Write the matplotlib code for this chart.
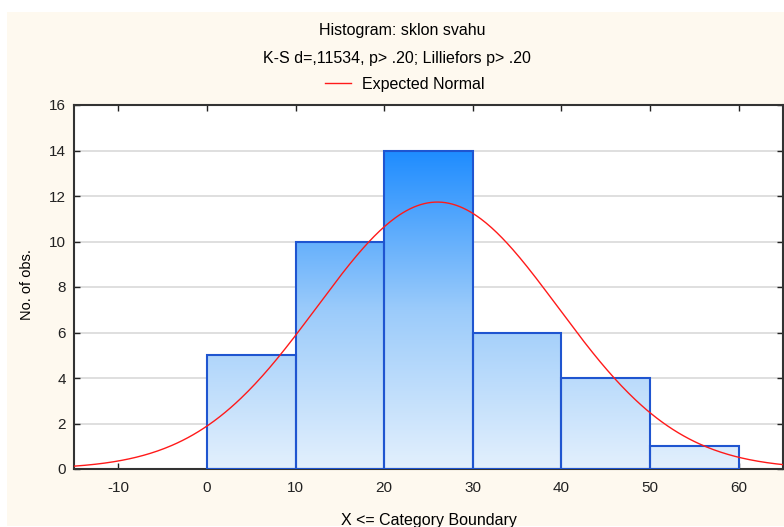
import numpy as np
import matplotlib
matplotlib.use("Agg")
import matplotlib.pyplot as plt
from matplotlib.patches import Rectangle
from matplotlib.colors import LinearSegmentedColormap

plt.rcParams['font.family'] = ['Liberation Sans', 'DejaVu Sans']
plt.rcParams['axes.unicode_minus'] = False

# Data
bin_edges = [0, 10, 20, 30, 40, 50, 60]
counts = [5, 10, 14, 6, 4, 1]
normal_mean = 26.0
normal_sd = 13.6
n_obs = 40
bin_width = 10
x_ticks = [-10, 0, 10, 20, 30, 40, 50, 60]
y_ticks = [0, 2, 4, 6, 8, 10, 12, 14, 16]

fig = plt.figure(figsize=(7.84, 5.27), dpi=100)
fig.patch.set_facecolor('white')
fig.patches.append(Rectangle((7/784, 1/527), 1, 1 - 13/527, transform=fig.transFigure,
                             facecolor='#FEF9EF', edgecolor='none', zorder=-10))

ax = fig.add_axes([74/784, (527-469)/527, (783-74)/784, (469-105)/527])
ax.set_facecolor('white')

ax.yaxis.grid(True, color='#D9D9D9', linewidth=1.2)
ax.set_axisbelow(True)

cmap = LinearSegmentedColormap.from_list('g', ['#E3F0FD', '#9BCBFA', '#1E8CFF'])
grad = np.linspace(0, 1, 256).reshape(-1, 1)
for left, right, c in zip(bin_edges[:-1], bin_edges[1:], counts):
    im = ax.imshow(grad, cmap=cmap, origin='lower', aspect='auto',
                   extent=[left, right, 0, 14], zorder=2, interpolation='bicubic')
    rect = Rectangle((left, 0), right - left, c, facecolor='none',
                     edgecolor='#1F55D0', linewidth=1.5, zorder=3)
    ax.add_patch(rect)
    im.set_clip_path(rect)

xs = np.linspace(-15, 65, 400)
ys = n_obs * bin_width / (normal_sd * np.sqrt(2*np.pi)) * np.exp(-0.5*((xs-normal_mean)/normal_sd)**2)
line, = ax.plot(xs, ys, color='#FF1A1A', linewidth=1.0, zorder=4, label='Expected Normal')
ax.set_xlim(-15, 65)
ax.set_ylim(0, 16)

ax.set_xticks(x_ticks)
ax.set_yticks(y_ticks)
ax.tick_params(direction='in', top=True, right=True, length=4, width=1,
               labelsize=11, colors='#222222')
ax.tick_params(axis='x', pad=9)
ax.tick_params(axis='y', pad=6)
for s in ax.spines.values():
    s.set_color('#333333')
    s.set_linewidth(1.5)

fig.text(27/784, 1 - 285/527, 'No. of obs.', rotation=90, ha='center', va='center', fontsize=10.5)
fig.text(429/784, 1 - 520/527, 'X <= Category Boundary', ha='center', va='center', fontsize=11.5)

fig.text(402/784, 1 - 31/527, 'Histogram: sklon svahu', ha='center', va='center', fontsize=11.5)
fig.text(397/784, 1 - 58/527, 'K-S d=,11534, p> .20; Lilliefors p> .20', ha='center', va='center', fontsize=11.5)
fig.legend(handles=[line], loc='center', bbox_to_anchor=(405/784, 1 - 84/527), frameon=False,
           fontsize=11.5, handlelength=1.6, handletextpad=0.7)

fig.savefig('out.png', dpi=100, facecolor=fig.get_facecolor())
